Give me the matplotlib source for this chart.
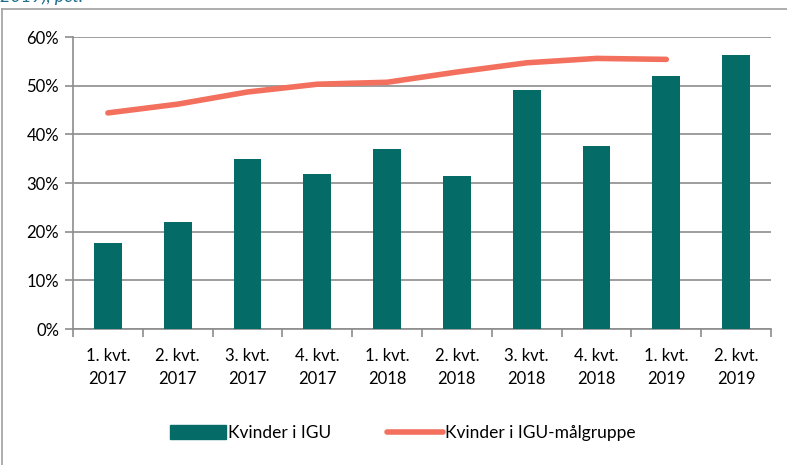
import numpy as np
import matplotlib
matplotlib.use('Agg')
import matplotlib.pyplot as plt
from matplotlib.patches import Rectangle
from matplotlib.lines import Line2D

plt.rcParams['font.family'] = ['Lato', 'DejaVu Sans']

categories = ['1. kvt.\n2017', '2. kvt.\n2017', '3. kvt.\n2017', '4. kvt.\n2017',
              '1. kvt.\n2018', '2. kvt.\n2018', '3. kvt.\n2018', '4. kvt.\n2018',
              '1. kvt.\n2019', '2. kvt.\n2019']
kvinder_igu = [17.7, 22.0, 34.9, 31.8, 36.9, 31.5, 49.1, 37.6, 52.0, 56.3]
kvinder_maalgruppe = [44.4, 46.2, 48.7, 50.3, 50.7, 52.8, 54.7, 55.6, 55.4]
yticks = [0, 10, 20, 30, 40, 50, 60]

bar_color = '#046b66'
line_color = '#f2705d'
grid_color = '#8c8c8c'

fig = plt.figure(figsize=(7.87, 4.65), dpi=100)
# outer frame of the chart box (top and left visible only)
fig.add_artist(Line2D([2/787, 2/787], [0, 1 - 9/465], transform=fig.transFigure,
                      color='#a0a0a0', lw=1.2))
fig.add_artist(Line2D([2/787, 1], [1 - 9/465, 1 - 9/465], transform=fig.transFigure,
                      color='#a0a0a0', lw=1.2))
# title sits above the visible area, only its lower edge shows
fig.text(0.0, 1 + 3/465, '2019), pct.', color='#1f6e8a', fontsize=13, style='italic',
         ha='left', va='center')

ax = fig.add_axes([73/787, 1 - 329/465, (771 - 73)/787, (329 - 37)/465])
x = np.arange(len(categories))
ax.bar(x, kvinder_igu, width=0.4, color=bar_color, zorder=3, label='Kvinder i IGU')
ax.plot(x[:len(kvinder_maalgruppe)], kvinder_maalgruppe, color=line_color, lw=4,
        solid_capstyle='round', zorder=4, label='Kvinder i IGU-målgruppe')

ax.set_xlim(-0.5, len(categories) - 0.5)
ax.set_ylim(0, 60)
ax.set_yticks(yticks)
ax.set_yticklabels([f'{v}%' for v in yticks])
ax.yaxis.grid(True, color=grid_color, lw=1.2, zorder=0)
ax.set_xticks(x)
ax.set_xticklabels(categories, linespacing=1.5)
ax.set_xticks(np.arange(len(categories) + 1) - 0.5, minor=True)
ax.tick_params(axis='x', which='major', length=0, pad=14, labelsize=12)
ax.tick_params(axis='x', which='minor', length=6, color=grid_color, width=1.2)
ax.tick_params(axis='y', length=6, color=grid_color, width=1.2, pad=4, labelsize=12)
for s in ['top', 'right']:
    ax.spines[s].set_visible(False)
for s in ['left', 'bottom']:
    ax.spines[s].set_color(grid_color)
    ax.spines[s].set_linewidth(1.2)

handles = [Rectangle((0, 0), 1, 1, color=bar_color),
           Line2D([0], [0], color=line_color, lw=4, solid_capstyle='round')]
fig.legend(handles, ['Kvinder i IGU', 'Kvinder i IGU-målgruppe'], loc='center',
           bbox_to_anchor=(403/787, 1 - 433/465), ncol=2, frameon=False, fontsize=12.5,
           handlelength=3.2, handletextpad=0.15, columnspacing=3.2, handleheight=0.9)

fig.savefig('out.png', dpi=100)
